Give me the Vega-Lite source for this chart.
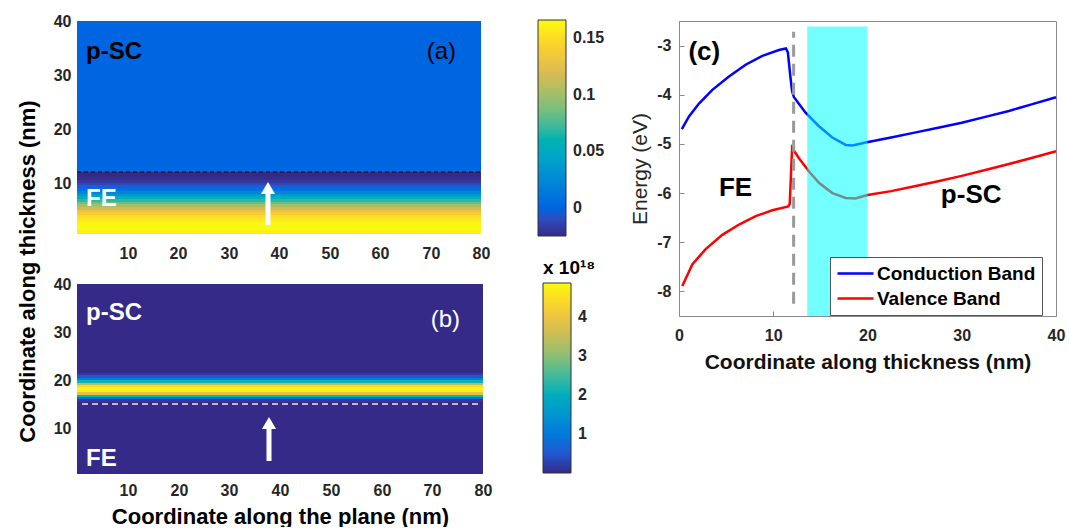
{
  "$schema": "https://vega.github.io/schema/vega-lite/v6.json",
  "background": "white",
  "padding": {"left": 15, "top": 12, "right": 5, "bottom": 0},
  "config": {
    "font": "Liberation Sans",
    "view": {"stroke": null},
    "axis": {"grid": false, "labelFont": "Liberation Sans", "titleFont": "Liberation Sans"},
    "legend": {"labelFont": "Liberation Sans", "titleFont": "Liberation Sans"}
  },
  "datasets": {
    "heatA": [
      {"x0": 0, "x1": 80, "y0": 12, "y1": 40, "v": 0.0},
      {"x0": 0, "x1": 80, "y0": 11.5, "y1": 12, "v": -0.025},
      {"x0": 0, "x1": 80, "y0": 11, "y1": 11.5, "v": -0.025},
      {"x0": 0, "x1": 80, "y0": 10.5, "y1": 11, "v": -0.023},
      {"x0": 0, "x1": 80, "y0": 10, "y1": 10.5, "v": -0.019},
      {"x0": 0, "x1": 80, "y0": 9.5, "y1": 10, "v": -0.012},
      {"x0": 0, "x1": 80, "y0": 9, "y1": 9.5, "v": -0.004},
      {"x0": 0, "x1": 80, "y0": 8.5, "y1": 9, "v": 0.007},
      {"x0": 0, "x1": 80, "y0": 8, "y1": 8.5, "v": 0.021},
      {"x0": 0, "x1": 80, "y0": 7.5, "y1": 8, "v": 0.036},
      {"x0": 0, "x1": 80, "y0": 7, "y1": 7.5, "v": 0.052},
      {"x0": 0, "x1": 80, "y0": 6.5, "y1": 7, "v": 0.068},
      {"x0": 0, "x1": 80, "y0": 6, "y1": 6.5, "v": 0.085},
      {"x0": 0, "x1": 80, "y0": 5.5, "y1": 6, "v": 0.101},
      {"x0": 0, "x1": 80, "y0": 5, "y1": 5.5, "v": 0.116},
      {"x0": 0, "x1": 80, "y0": 4.5, "y1": 5, "v": 0.129},
      {"x0": 0, "x1": 80, "y0": 4, "y1": 4.5, "v": 0.14},
      {"x0": 0, "x1": 80, "y0": 3.5, "y1": 4, "v": 0.149},
      {"x0": 0, "x1": 80, "y0": 3, "y1": 3.5, "v": 0.156},
      {"x0": 0, "x1": 80, "y0": 2.5, "y1": 3, "v": 0.161},
      {"x0": 0, "x1": 80, "y0": 2, "y1": 2.5, "v": 0.164},
      {"x0": 0, "x1": 80, "y0": 1.5, "y1": 2, "v": 0.165},
      {"x0": 0, "x1": 80, "y0": 1, "y1": 1.5, "v": 0.163},
      {"x0": 0, "x1": 80, "y0": 0.5, "y1": 1, "v": 0.158}
    ],
    "heatB": [
      {"x0": 0, "x1": 80, "y0": 0.5, "y1": 15.5, "v": 0},
      {"x0": 0, "x1": 80, "y0": 15.5, "y1": 16, "v": 0.15},
      {"x0": 0, "x1": 80, "y0": 16, "y1": 16.5, "v": 0.8},
      {"x0": 0, "x1": 80, "y0": 16.5, "y1": 17, "v": 2.2},
      {"x0": 0, "x1": 80, "y0": 17, "y1": 17.5, "v": 3.9},
      {"x0": 0, "x1": 80, "y0": 17.5, "y1": 18, "v": 4.7},
      {"x0": 0, "x1": 80, "y0": 18, "y1": 18.5, "v": 4.8},
      {"x0": 0, "x1": 80, "y0": 18.5, "y1": 19, "v": 4.4},
      {"x0": 0, "x1": 80, "y0": 19, "y1": 19.5, "v": 3.4},
      {"x0": 0, "x1": 80, "y0": 19.5, "y1": 20, "v": 2.2},
      {"x0": 0, "x1": 80, "y0": 20, "y1": 20.5, "v": 1.1},
      {"x0": 0, "x1": 80, "y0": 20.5, "y1": 21, "v": 0.5},
      {"x0": 0, "x1": 80, "y0": 21, "y1": 21.5, "v": 0.15},
      {"x0": 0, "x1": 80, "y0": 21.5, "y1": 40, "v": 0}
    ],
    "bands": [
      {"x": 0.3, "E": -4.7, "band": "Conduction Band"},
      {"x": 1.06, "E": -4.44, "band": "Conduction Band"},
      {"x": 2.12, "E": -4.18, "band": "Conduction Band"},
      {"x": 3.54, "E": -3.9, "band": "Conduction Band"},
      {"x": 5.3, "E": -3.63, "band": "Conduction Band"},
      {"x": 7.07, "E": -3.39, "band": "Conduction Band"},
      {"x": 8.84, "E": -3.21, "band": "Conduction Band"},
      {"x": 10.6, "E": -3.09, "band": "Conduction Band"},
      {"x": 11.35, "E": -3.06, "band": "Conduction Band"},
      {"x": 11.55, "E": -3.14, "band": "Conduction Band"},
      {"x": 11.8, "E": -3.6, "band": "Conduction Band"},
      {"x": 12.0, "E": -3.93, "band": "Conduction Band"},
      {"x": 12.2, "E": -4.05, "band": "Conduction Band"},
      {"x": 13.45, "E": -4.37, "band": "Conduction Band"},
      {"x": 14.85, "E": -4.64, "band": "Conduction Band"},
      {"x": 16.27, "E": -4.87, "band": "Conduction Band"},
      {"x": 17.69, "E": -5.02, "band": "Conduction Band"},
      {"x": 18.4, "E": -5.03, "band": "Conduction Band"},
      {"x": 19.8, "E": -4.97, "band": "Conduction Band"},
      {"x": 22.5, "E": -4.87, "band": "Conduction Band"},
      {"x": 25, "E": -4.77, "band": "Conduction Band"},
      {"x": 27.5, "E": -4.67, "band": "Conduction Band"},
      {"x": 30, "E": -4.57, "band": "Conduction Band"},
      {"x": 32.5, "E": -4.45, "band": "Conduction Band"},
      {"x": 35, "E": -4.33, "band": "Conduction Band"},
      {"x": 37.5, "E": -4.19, "band": "Conduction Band"},
      {"x": 40, "E": -4.05, "band": "Conduction Band"},
      {"x": 0.35, "E": -7.89, "band": "Valence Band"},
      {"x": 1.41, "E": -7.45, "band": "Valence Band"},
      {"x": 2.83, "E": -7.14, "band": "Valence Band"},
      {"x": 4.6, "E": -6.85, "band": "Valence Band"},
      {"x": 6.37, "E": -6.64, "band": "Valence Band"},
      {"x": 8.14, "E": -6.47, "band": "Valence Band"},
      {"x": 9.9, "E": -6.35, "band": "Valence Band"},
      {"x": 11.6, "E": -6.27, "band": "Valence Band"},
      {"x": 11.75, "E": -6.22, "band": "Valence Band"},
      {"x": 12.0, "E": -5.08, "band": "Valence Band"},
      {"x": 12.73, "E": -5.29, "band": "Valence Band"},
      {"x": 13.8, "E": -5.56, "band": "Valence Band"},
      {"x": 14.85, "E": -5.79, "band": "Valence Band"},
      {"x": 16.27, "E": -6.0, "band": "Valence Band"},
      {"x": 17.69, "E": -6.1, "band": "Valence Band"},
      {"x": 18.7, "E": -6.11, "band": "Valence Band"},
      {"x": 20, "E": -6.04, "band": "Valence Band"},
      {"x": 22.5, "E": -5.96, "band": "Valence Band"},
      {"x": 25, "E": -5.86, "band": "Valence Band"},
      {"x": 27.5, "E": -5.76, "band": "Valence Band"},
      {"x": 30, "E": -5.65, "band": "Valence Band"},
      {"x": 32.5, "E": -5.53, "band": "Valence Band"},
      {"x": 35, "E": -5.41, "band": "Valence Band"},
      {"x": 37.5, "E": -5.28, "band": "Valence Band"},
      {"x": 40, "E": -5.15, "band": "Valence Band"}
    ]
  },
  "resolve": {"scale": {"color": "independent"}, "legend": {"color": "independent"}},
  "spacing": 24,
  "hconcat": [
    {
      "bounds": "flush",
      "spacing": 50,
      "resolve": {"scale": {"color": "independent", "x": "independent", "y": "independent"}, "legend": {"color": "independent"}},
      "vconcat": [
        {
          "width": 404,
          "height": 213,
          "layer": [
            {
              "data": {"name": "heatA"},
              "mark": {"type": "rect", "strokeWidth": 0},
              "encoding": {
                "x": {"field": "x0", "type": "quantitative", "scale": {"domain": [0, 80], "nice": false, "zero": false, "round": true},
                  "axis": {"values": [10, 20, 30, 40, 50, 60, 70, 80], "title": null, "ticks": false, "domain": false, "labelPadding": 11, "labelFontSize": 16, "labelFontWeight": "bold", "labelColor": "#262626", "labelFlush": false, "labelOverlap": false}},
                "x2": {"field": "x1"},
                "y": {"field": "y0", "type": "quantitative", "scale": {"domain": [0.5, 40], "nice": false, "zero": false, "round": true},
                  "axis": {"values": [10, 20, 30, 40], "ticks": false, "domain": false, "labelPadding": 6, "labelFontSize": 16, "labelFontWeight": "bold", "labelColor": "#262626", "labelFlush": false, "labelOverlap": false,
                    "title": "Coordinate along thickness (nm)", "titleFontSize": 22, "titleFontWeight": "bold", "titleColor": "black", "titleX": -50, "titleY": 250, "titleBaseline": "middle", "titleAlign": "center", "titleAngle": 270}},
                "y2": {"field": "y1"},
                "color": {"field": "v", "type": "quantitative",
                  "scale": {"type": "linear", "domain": [-0.025, -0.001125, 0.02275, 0.046625, 0.0705, 0.094375, 0.11825, 0.142125, 0.166], "range": ["#352a87", "#0363e1", "#1485d4", "#06a7c6", "#38b99e", "#92bf73", "#d9ba56", "#fcce2e", "#f9fb0e"]},
                  "legend": {"type": "gradient", "orient": "none", "legendX": 461, "legendY": -1, "title": null, "direction": "vertical", "gradientLength": 216, "gradientThickness": 28, "values": [0, 0.05, 0.1, 0.15], "format": "~g", "labelFontSize": 16, "labelFontWeight": "bold", "labelColor": "#262626", "labelOffset": 7, "gradientStrokeColor": "#333333", "gradientStrokeWidth": 1, "labelOverlap": false}}
              }
            },
            {
              "data": {"values": [{"xa": 0, "xb": 80, "y": 11.95}]},
              "mark": {"type": "rule", "color": "#111111", "strokeWidth": 1, "strokeDash": [4, 3]},
              "encoding": {"x": {"field": "xa", "type": "quantitative"}, "x2": {"field": "xb"}, "y": {"field": "y", "type": "quantitative"}}
            },
            {
              "data": {"values": [{"x": 37.8, "yb": 2.2, "yt": 8.95}]},
              "mark": {"type": "rule", "color": "white", "strokeWidth": 5},
              "encoding": {"x": {"field": "x", "type": "quantitative"}, "y": {"field": "yb", "type": "quantitative"}, "y2": {"field": "yt"}}
            },
            {
              "data": {"values": [{"x": 37.8, "yt": 8.95}]},
              "mark": {"type": "point", "shape": "triangle-up", "filled": true, "color": "white", "size": 200, "opacity": 1, "strokeWidth": 0},
              "encoding": {"x": {"field": "x", "type": "quantitative"}, "y": {"field": "yt", "type": "quantitative"}}
            },
            {
              "data": {"values": [{"x": 1.8, "y": 34.3, "label": "p-SC"}]},
              "mark": {"type": "text", "align": "left", "baseline": "middle", "fontSize": 24, "fontWeight": "bold", "color": "black"},
              "encoding": {"x": {"field": "x", "type": "quantitative"}, "y": {"field": "y", "type": "quantitative"}, "text": {"field": "label"}}
            },
            {
              "data": {"values": [{"x": 75.0, "y": 34.2, "label": "(a)"}]},
              "mark": {"type": "text", "align": "right", "baseline": "middle", "fontSize": 24, "fontWeight": "normal", "color": "black"},
              "encoding": {"x": {"field": "x", "type": "quantitative"}, "y": {"field": "y", "type": "quantitative"}, "text": {"field": "label"}}
            },
            {
              "data": {"values": [{"x": 1.8, "y": 6.9, "label": "FE"}]},
              "mark": {"type": "text", "align": "left", "baseline": "middle", "fontSize": 24, "fontWeight": "bold", "color": "white"},
              "encoding": {"x": {"field": "x", "type": "quantitative"}, "y": {"field": "y", "type": "quantitative"}, "text": {"field": "label"}}
            }
          ]
        },
        {
          "width": 406,
          "height": 190,
          "layer": [
            {
              "data": {"name": "heatB"},
              "mark": {"type": "rect", "strokeWidth": 0},
              "encoding": {
                "x": {"field": "x0", "type": "quantitative", "scale": {"domain": [0, 80], "nice": false, "zero": false, "round": true},
                  "axis": {"values": [10, 20, 30, 40, 50, 60, 70, 80], "ticks": false, "domain": false, "labelPadding": 8, "labelFontSize": 16, "labelFontWeight": "bold", "labelColor": "#262626", "labelFlush": false, "labelOverlap": false,
                    "title": "Coordinate along the plane (nm)", "titleFontSize": 22, "titleFontWeight": "bold", "titleColor": "black", "titlePadding": 8}},
                "x2": {"field": "x1"},
                "y": {"field": "y0", "type": "quantitative", "scale": {"domain": [0.5, 40], "nice": false, "zero": false, "round": true},
                  "axis": {"values": [10, 20, 30, 40], "ticks": false, "domain": false, "labelPadding": 6, "labelFontSize": 16, "labelFontWeight": "bold", "labelColor": "#262626", "labelFlush": false, "labelOverlap": false, "title": null}},
                "y2": {"field": "y1"},
                "color": {"field": "v", "type": "quantitative",
                  "scale": {"type": "linear", "domain": [0, 0.60875, 1.2175, 1.82625, 2.435, 3.04375, 3.6525, 4.26125, 4.87], "range": ["#352a87", "#0363e1", "#1485d4", "#06a7c6", "#38b99e", "#92bf73", "#d9ba56", "#fcce2e", "#f9fb0e"]},
                  "legend": {"type": "gradient", "orient": "none", "legendX": 466, "legendY": -25, "title": "x 10¹⁸", "titleFontSize": 19, "titleFontWeight": "bold", "titleColor": "black", "titlePadding": 5, "titleAnchor": "start", "direction": "vertical", "gradientLength": 190, "gradientThickness": 28, "values": [1, 2, 3, 4], "format": "d", "labelFontSize": 16, "labelFontWeight": "bold", "labelColor": "#262626", "labelOffset": 7, "gradientStrokeColor": "#333333", "gradientStrokeWidth": 1, "labelOverlap": false}}
              }
            },
            {
              "data": {"values": [{"xa": 0.9, "xb": 79.4, "y": 15.0}]},
              "mark": {"type": "rule", "color": "#f3e4f3", "strokeWidth": 1.5, "strokeDash": [6, 4]},
              "encoding": {"x": {"field": "xa", "type": "quantitative"}, "x2": {"field": "xb"}, "y": {"field": "y", "type": "quantitative"}}
            },
            {
              "data": {"values": [{"x": 37.8, "yb": 3.3, "yt": 11.1}]},
              "mark": {"type": "rule", "color": "white", "strokeWidth": 5},
              "encoding": {"x": {"field": "x", "type": "quantitative"}, "y": {"field": "yb", "type": "quantitative"}, "y2": {"field": "yt"}}
            },
            {
              "data": {"values": [{"x": 37.8, "yt": 11.1}]},
              "mark": {"type": "point", "shape": "triangle-up", "filled": true, "color": "white", "size": 200, "opacity": 1, "strokeWidth": 0},
              "encoding": {"x": {"field": "x", "type": "quantitative"}, "y": {"field": "yt", "type": "quantitative"}}
            },
            {
              "data": {"values": [{"x": 1.8, "y": 34.0, "label": "p-SC"}, {"x": 1.8, "y": 3.65, "label": "FE"}]},
              "mark": {"type": "text", "align": "left", "baseline": "middle", "fontSize": 24, "fontWeight": "bold", "color": "white"},
              "encoding": {"x": {"field": "x", "type": "quantitative"}, "y": {"field": "y", "type": "quantitative"}, "text": {"field": "label"}}
            },
            {
              "data": {"values": [{"x": 75.4, "y": 32.5, "label": "(b)"}]},
              "mark": {"type": "text", "align": "right", "baseline": "middle", "fontSize": 24, "fontWeight": "normal", "color": "white"},
              "encoding": {"x": {"field": "x", "type": "quantitative"}, "y": {"field": "y", "type": "quantitative"}, "text": {"field": "label"}}
            }
          ]
        }
      ]
    },
    {
      "width": 377,
      "height": 295,
      "view": {"stroke": "#8a8a8a", "strokeWidth": 1},
      "layer": [
        {
          "data": {"name": "bands"},
          "mark": {"type": "line", "strokeWidth": 2.5},
          "encoding": {
            "x": {"field": "x", "type": "quantitative", "scale": {"domain": [0, 40], "nice": false, "zero": false},
              "axis": {"values": [0, 10, 20, 30, 40], "ticks": true, "tickSize": -5, "tickColor": "#8a8a8a", "domain": false, "labelPadding": 16, "labelFontSize": 16, "labelFontWeight": "bold", "labelColor": "#262626", "labelFlush": false, "labelOverlap": false,
                "title": "Coordinate along thickness (nm)", "titleFontSize": 21, "titleFontWeight": "bold", "titleColor": "#111111", "titlePadding": 8}},
            "y": {"field": "E", "type": "quantitative", "scale": {"domain": [-8.5, -2.5], "nice": false, "zero": false},
              "axis": {"values": [-8, -7, -6, -5, -4, -3, -2.5], "labelExpr": "datum.value == -2.5 ? ' ' : '' + datum.value", "ticks": true, "tickSize": -5, "tickColor": "#8a8a8a", "domain": false, "labelPadding": 13, "labelFontSize": 16, "labelFontWeight": "bold", "labelColor": "#262626", "labelFlush": false, "labelOverlap": false,
                "title": "Energy (eV)", "titleFontSize": 21, "titleFontWeight": "normal", "titleColor": "#262626", "titlePadding": 6}},
            "color": {"field": "band", "type": "nominal",
              "scale": {"domain": ["Conduction Band", "Valence Band"], "range": ["#0000ff", "#ff0000"]},
              "legend": {"orient": "none", "legendX": 151, "legendY": 236, "title": null, "fillColor": "white", "strokeColor": "#555555", "padding": 6, "labelFontSize": 19, "labelFontWeight": "bold", "labelColor": "black", "symbolType": "M-2,0L2,0", "symbolSize": 324, "symbolOffset": 9, "symbolStrokeWidth": 2.5, "rowPadding": 4, "labelOffset": 11}},
            "detail": {"field": "band"}
          }
        },
        {
          "data": {"values": [{"x0": 13.6, "x1": 20, "ya": -8.5, "yb": -2.61}]},
          "mark": {"type": "rect", "color": "#00ffff", "opacity": 0.55},
          "encoding": {"x": {"field": "x0", "type": "quantitative"}, "x2": {"field": "x1"}, "y": {"field": "ya", "type": "quantitative"}, "y2": {"field": "yb"}}
        },
        {
          "data": {"values": [{"x": 12.16, "ya": -8.25, "yb": -2.72}]},
          "mark": {"type": "rule", "color": "#9a9a9a", "strokeWidth": 3, "strokeDash": [12, 7]},
          "encoding": {"x": {"field": "x", "type": "quantitative"}, "y": {"field": "ya", "type": "quantitative"}, "y2": {"field": "yb"}}
        },
        {
          "data": {"values": [{"x": 1.0, "y": -3.14, "label": "(c)"}]},
          "mark": {"type": "text", "align": "left", "baseline": "middle", "fontSize": 26, "fontWeight": "bold", "color": "black"},
          "encoding": {"x": {"field": "x", "type": "quantitative"}, "y": {"field": "y", "type": "quantitative"}, "text": {"field": "label"}}
        },
        {
          "data": {"values": [{"x": 6.0, "y": -5.9, "label": "FE"}, {"x": 31.0, "y": -6.04, "label": "p-SC"}]},
          "mark": {"type": "text", "align": "center", "baseline": "middle", "fontSize": 26, "fontWeight": "bold", "color": "black"},
          "encoding": {"x": {"field": "x", "type": "quantitative"}, "y": {"field": "y", "type": "quantitative"}, "text": {"field": "label"}}
        }
      ]
    }
  ]
}
